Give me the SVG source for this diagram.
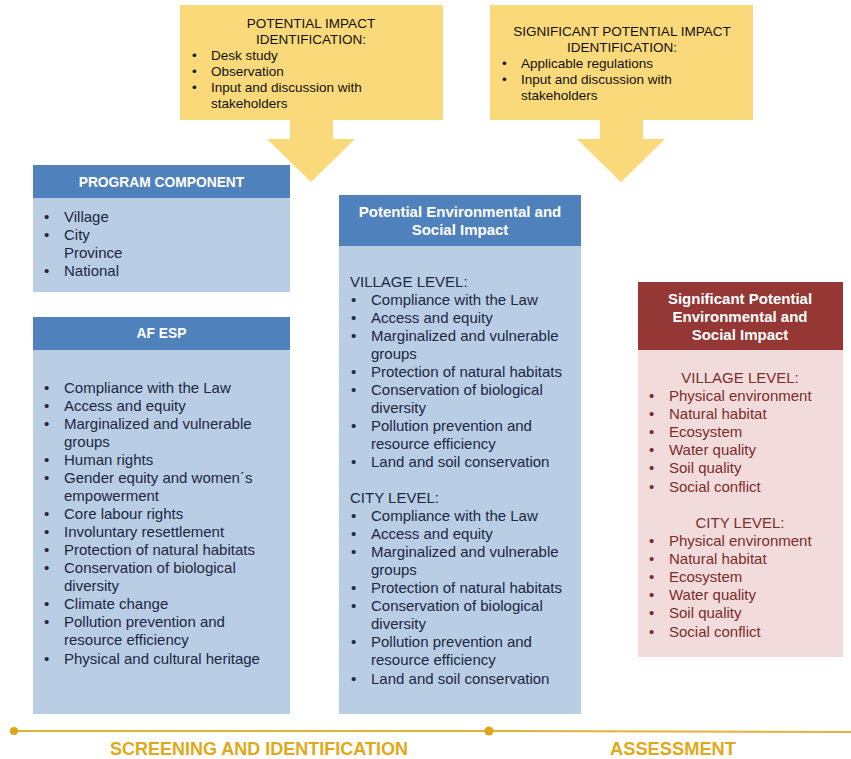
<svg xmlns="http://www.w3.org/2000/svg" width="851" height="759" viewBox="0 0 851 759">
<style>
text{font-family:"Liberation Sans",Arial,sans-serif}
.yt{font-size:13.5px;fill:#111}
.hd{font-size:13.8px;font-weight:bold;fill:#fff}
.hl{font-size:15px;font-weight:bold;fill:#fff}
.bt{font-size:15px;fill:#1b2840}
.rt{font-size:15px;fill:#7a2d2b}
.hb{fill:#4f81bd}
.bb{fill:#b9cde5}
.yl{fill:#fad97a}
.ft{font-size:18px;font-weight:bold;fill:#e1a918}
</style>
<rect width="851" height="759" fill="#fff"/>
<g id="potential-identification">
<rect class="yl" x="180" y="5" width="263" height="115"/>
<polygon class="yl" points="290,119 333,119 333,139 355,139 311,182 267,139 290,139"/>
<text class="yt" x="311" y="28" text-anchor="middle">POTENTIAL IMPACT</text>
<text class="yt" x="311" y="44" text-anchor="middle">IDENTIFICATION:</text>
<text class="yt" x="192" y="60">•</text><text class="yt" x="211" y="60">Desk study</text>
<text class="yt" x="192" y="76">•</text><text class="yt" x="211" y="76">Observation</text>
<text class="yt" x="192" y="92">•</text><text class="yt" x="211" y="92">Input and discussion with</text>
<text class="yt" x="211" y="108">stakeholders</text>
</g>
<g id="significant-identification">
<rect class="yl" x="490" y="5" width="263" height="115"/>
<polygon class="yl" points="600,119 643,119 643,139 665,139 621,182 577,139 600,139"/>
<text class="yt" x="622" y="36" text-anchor="middle">SIGNIFICANT POTENTIAL IMPACT</text>
<text class="yt" x="622" y="52" text-anchor="middle">IDENTIFICATION:</text>
<text class="yt" x="502" y="68">•</text><text class="yt" x="521" y="68">Applicable regulations</text>
<text class="yt" x="502" y="84">•</text><text class="yt" x="521" y="84">Input and discussion with</text>
<text class="yt" x="521" y="100">stakeholders</text>
</g>
<g id="program-component">
<rect class="bb" x="33" y="165" width="257" height="127"/>
<rect class="hb" x="33" y="165" width="257" height="33"/>
<text class="hd" x="161.5" y="187" text-anchor="middle">PROGRAM COMPONENT</text>
<text class="bt" x="44" y="222">•</text><text class="bt" x="64" y="222">Village</text>
<text class="bt" x="44" y="240">•</text><text class="bt" x="64" y="240">City</text>
<text class="bt" x="64" y="258">Province</text>
<text class="bt" x="44" y="276">•</text><text class="bt" x="64" y="276">National</text>
</g>
<g id="af-esp">
<rect class="bb" x="33" y="317" width="257" height="397"/>
<rect class="hb" x="33" y="317" width="257" height="33"/>
<text class="hd" x="161.5" y="338" text-anchor="middle">AF ESP</text>
<g class="bt">
<text x="44" y="393">•</text><text x="64" y="393">Compliance with the Law</text>
<text x="44" y="411">•</text><text x="64" y="411">Access and equity</text>
<text x="44" y="429">•</text><text x="64" y="429">Marginalized and vulnerable</text>
<text x="64" y="447">groups</text>
<text x="44" y="465">•</text><text x="64" y="465">Human rights</text>
<text x="44" y="483">•</text><text x="64" y="483">Gender equity and women´s</text>
<text x="64" y="501">empowerment</text>
<text x="44" y="519">•</text><text x="64" y="519">Core labour rights</text>
<text x="44" y="537">•</text><text x="64" y="537">Involuntary resettlement</text>
<text x="44" y="555">•</text><text x="64" y="555">Protection of natural habitats</text>
<text x="44" y="573">•</text><text x="64" y="573">Conservation of biological</text>
<text x="64" y="591">diversity</text>
<text x="44" y="609">•</text><text x="64" y="609">Climate change</text>
<text x="44" y="627">•</text><text x="64" y="627">Pollution prevention and</text>
<text x="64" y="645">resource efficiency</text>
<text x="44" y="664">•</text><text x="64" y="664">Physical and cultural heritage</text>
</g>
</g>
<g id="potential-impact">
<rect class="bb" x="339" y="195" width="242" height="519"/>
<rect class="hb" x="339" y="195" width="242" height="51"/>
<text class="hl" x="460" y="217" text-anchor="middle">Potential Environmental and</text>
<text class="hl" x="460" y="235" text-anchor="middle">Social Impact</text>
<g class="bt">
<text x="350" y="287">VILLAGE LEVEL:</text>
<text x="351" y="305">•</text><text x="371" y="305">Compliance with the Law</text>
<text x="351" y="323">•</text><text x="371" y="323">Access and equity</text>
<text x="351" y="341">•</text><text x="371" y="341">Marginalized and vulnerable</text>
<text x="371" y="359">groups</text>
<text x="351" y="377">•</text><text x="371" y="377">Protection of natural habitats</text>
<text x="351" y="395">•</text><text x="371" y="395">Conservation of biological</text>
<text x="371" y="413">diversity</text>
<text x="351" y="431">•</text><text x="371" y="431">Pollution prevention and</text>
<text x="371" y="449">resource efficiency</text>
<text x="351" y="467">•</text><text x="371" y="467">Land and soil conservation</text>
<text x="350" y="503">CITY LEVEL:</text>
<text x="351" y="521">•</text><text x="371" y="521">Compliance with the Law</text>
<text x="351" y="539">•</text><text x="371" y="539">Access and equity</text>
<text x="351" y="557">•</text><text x="371" y="557">Marginalized and vulnerable</text>
<text x="371" y="575">groups</text>
<text x="351" y="593">•</text><text x="371" y="593">Protection of natural habitats</text>
<text x="351" y="611">•</text><text x="371" y="611">Conservation of biological</text>
<text x="371" y="629">diversity</text>
<text x="351" y="647">•</text><text x="371" y="647">Pollution prevention and</text>
<text x="371" y="665">resource efficiency</text>
<text x="351" y="684">•</text><text x="371" y="684">Land and soil conservation</text>
</g>
</g>
<g id="significant-impact">
<rect x="638" y="282" width="205" height="375" fill="#f2dcdb"/>
<rect x="638" y="282" width="205" height="68" fill="#953735"/>
<text class="hl" x="740" y="304" text-anchor="middle">Significant Potential</text>
<text class="hl" x="740" y="322" text-anchor="middle">Environmental and</text>
<text class="hl" x="740" y="340" text-anchor="middle">Social Impact</text>
<g class="rt">
<text x="740" y="383" text-anchor="middle">VILLAGE LEVEL:</text>
<text x="649" y="401">•</text><text x="669" y="401">Physical environment</text>
<text x="649" y="419">•</text><text x="669" y="419">Natural habitat</text>
<text x="649" y="437">•</text><text x="669" y="437">Ecosystem</text>
<text x="649" y="455">•</text><text x="669" y="455">Water quality</text>
<text x="649" y="473">•</text><text x="669" y="473">Soil quality</text>
<text x="649" y="492">•</text><text x="669" y="492">Social conflict</text>
<text x="740" y="528" text-anchor="middle">CITY LEVEL:</text>
<text x="649" y="546">•</text><text x="669" y="546">Physical environment</text>
<text x="649" y="564">•</text><text x="669" y="564">Natural habitat</text>
<text x="649" y="582">•</text><text x="669" y="582">Ecosystem</text>
<text x="649" y="600">•</text><text x="669" y="600">Water quality</text>
<text x="649" y="618">•</text><text x="669" y="618">Soil quality</text>
<text x="649" y="637">•</text><text x="669" y="637">Social conflict</text>
</g>
</g>
<g id="connectors">
<line x1="14" y1="731" x2="489" y2="731" stroke="#e2b23a" stroke-width="2"/>
<line x1="489" y1="731" x2="851" y2="732" stroke="#e2b23a" stroke-width="2"/>
<circle cx="14" cy="731" r="4" fill="#dfa516"/>
<circle cx="489" cy="731" r="4.5" fill="#dfa516"/>
</g>
<g id="phases">
<text class="ft" x="259" y="755" text-anchor="middle" textLength="298" lengthAdjust="spacingAndGlyphs">SCREENING AND IDENTIFICATION</text>
<text class="ft" x="673" y="755" text-anchor="middle" textLength="126" lengthAdjust="spacingAndGlyphs">ASSESSMENT</text>
</g>
</svg>
